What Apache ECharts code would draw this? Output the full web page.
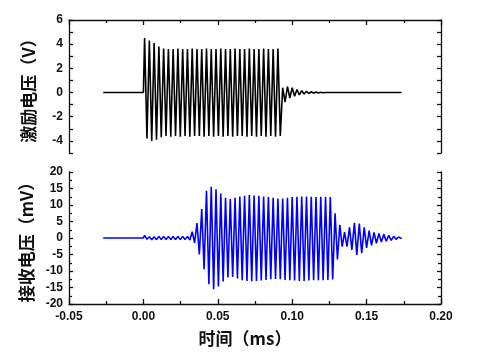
<!DOCTYPE html>
<html>
<head>
<meta charset="utf-8">
<script src="https://cdn.jsdelivr.net/npm/echarts@6/dist/echarts.min.js"></script>
<style>html,body{margin:0;padding:0;background:#fff;}#c{width:487px;height:360px;}</style>
</head>
<body>
<div id="c"></div>
<script>
// ---- Data ----
// X-axis (time, ms) ticks
var xTicks = [-0.05, 0.00, 0.05, 0.10, 0.15, 0.20];
var excTicks = [-4, -2, 0, 2, 4, 6];
var recTicks = [-20, -15, -10, -5, 0, 5, 10, 15, 20];

// Excitation voltage (V): extrema of the burst
var excTime = [-0.027, 0.0000,
  0.0008, 0.0024, 0.0040, 0.0056, 0.0072, 0.0088, 0.0104, 0.0120, 0.0136, 0.0152,
  0.0168, 0.0184, 0.0200, 0.0216, 0.0232, 0.0248, 0.0264, 0.0280, 0.0296, 0.0312,
  0.0328, 0.0344, 0.0360, 0.0376, 0.0392, 0.0408, 0.0424, 0.0440, 0.0456, 0.0472,
  0.0488, 0.0504, 0.0520, 0.0536, 0.0552, 0.0568, 0.0584, 0.0600, 0.0616, 0.0632,
  0.0648, 0.0664, 0.0680, 0.0696, 0.0712, 0.0728, 0.0744, 0.0760, 0.0776, 0.0792,
  0.0808, 0.0824, 0.0840, 0.0856, 0.0872, 0.0888, 0.0904, 0.0920,
  0.0936, 0.0952, 0.0968, 0.0984, 0.1000, 0.1016, 0.1032, 0.1048, 0.1064, 0.1080,
  0.1096, 0.1112, 0.1128, 0.1144, 0.1160, 0.1176, 0.1192, 0.1208, 0.1224, 0.1240, 0.1735];
var excVolt = [0, 0,
  4.5, -3.8, 4.3, -4.0, 4.1, -3.9, 3.8, -3.7, 3.65, -3.6,
  3.6, -3.65, 3.6, -3.6, 3.65, -3.65, 3.6, -3.6, 3.6, -3.65,
  3.65, -3.6, 3.6, -3.6, 3.6, -3.65, 3.65, -3.6, 3.6, -3.65,
  3.6, -3.6, 3.65, -3.65, 3.6, -3.6, 3.6, -3.65, 3.65, -3.6,
  3.6, -3.6, 3.6, -3.65, 3.65, -3.6, 3.6, -3.65, 3.6, -3.6,
  3.65, -3.65, 3.6, -3.6, 3.6, -3.65, 3.65, -3.6,
  0.4, -0.8, 0.5, -0.45, 0.4, -0.3, 0.25, -0.2, 0.15, -0.12,
  0.1, -0.08, 0.06, -0.05, 0.04, -0.03, 0.02, -0.02, 0.01, 0, 0];

// Received voltage (mV): extrema of the signal
var recTime = [-0.027, 0.0000,
  0.0008, 0.0024, 0.0040, 0.0056, 0.0072, 0.0088, 0.0104, 0.0120, 0.0136, 0.0152,
  0.0168, 0.0184, 0.0200, 0.0216, 0.0232, 0.0248, 0.0264, 0.0280, 0.0296, 0.0312,
  0.0328, 0.0344, 0.0360, 0.0376, 0.0392, 0.0408, 0.0424, 0.0440, 0.0456, 0.0472,
  0.0488, 0.0504, 0.0520, 0.0536, 0.0552, 0.0568, 0.0584, 0.0600, 0.0616, 0.0632,
  0.0648, 0.0664, 0.0680, 0.0696, 0.0712, 0.0728, 0.0744, 0.0760, 0.0776, 0.0792,
  0.0808, 0.0824, 0.0840, 0.0856, 0.0872, 0.0888, 0.0904, 0.0920, 0.0936, 0.0952,
  0.0968, 0.0984, 0.1000, 0.1016, 0.1032, 0.1048, 0.1064, 0.1080, 0.1096, 0.1112,
  0.1128, 0.1144, 0.1160, 0.1176, 0.1192, 0.1208, 0.1224, 0.1240, 0.1256, 0.1272,
  0.1288, 0.1304, 0.1320, 0.1336,
  0.1352, 0.1368, 0.1385, 0.1401, 0.1418, 0.1434, 0.1451, 0.1467, 0.1484, 0.1500,
  0.1517, 0.1533, 0.1550, 0.1566, 0.1583, 0.1599, 0.1616, 0.1632, 0.1649, 0.1665,
  0.1682, 0.1698, 0.1715, 0.1731, 0.1736];
var recVolt = [0, 0,
  0.8, -0.4, 0.4, -0.5, 0.4, -0.5, 0.5, -0.5, 0.5, -0.5,
  0.5, -0.5, 0.5, -0.5, 0.5, -0.5, 0.5, -0.5, 0.5, -0.6,
  1.9, -1.5, 4.5, -5.0, 8.8, -9.5, 14.3, -14.0, 15.5, -15.5,
  14.8, -14.7, 13.5, -13.2, 12.2, -12.0, 11.8, -11.8, 12.2, -12.3,
  12.6, -12.8, 12.8, -13.0, 13.0, -13.1, 12.9, -13.0, 12.8, -12.9,
  12.6, -12.7, 12.4, -12.5, 12.2, -12.4, 12.0, -12.5, 12.0, -12.7,
  12.2, -12.8, 12.4, -12.9, 12.5, -13.0, 12.6, -13.0, 12.6, -12.9,
  12.5, -12.8, 12.4, -12.8, 12.5, -12.8, 12.5, -12.7, 12.4, -12.6,
  7.5, -6.5, 4.0, -2.6,
  1.8, -2.6, 3.2, -3.6, 4.6, -5.1, 4.4, -4.6, 3.2, -3.0,
  2.2, -2.2, 1.7, -1.6, 1.4, -1.2, 1.1, -1.0, 0.8, -0.7,
  0.5, -0.4, 0.3, -0.1, 0];

function pairs(t, v) { return t.map(function (x, i) { return [x, v[i]]; }); }

var labelFont = { color: '#111', fontWeight: 'bold', fontSize: 12, fontFamily: 'Arial, "Liberation Sans", sans-serif' };
var nameFont = { color: '#111', fontWeight: 'bold', fontSize: 17, fontFamily: '"Noto Sans CJK SC", sans-serif' };
var lineSt = { show: true, onZero: false, lineStyle: { color: '#111', width: 1.3 } };

function xAx(grid, pos, showLabel) {
  var o = {
    type: 'value', gridIndex: grid, position: pos, min: xTicks[0], max: xTicks[xTicks.length - 1], interval: 0.05,
    axisLine: lineSt,
    axisTick: { show: true, inside: true, length: 5, lineStyle: { color: '#111', width: 1.3 } },
    minorTick: { show: true, splitNumber: 2, length: 3, lineStyle: { color: '#111', width: 1.3 } },
    splitLine: { show: false },
    axisLabel: { show: showLabel, margin: 7, formatter: function (v) { return v.toFixed(2); } }
  };
  Object.assign(o.axisLabel, labelFont);
  return o;
}

function yAx(grid, pos, ticks, step, minor, showLabel, name, evenOnly) {
  var o = {
    type: 'value', gridIndex: grid, position: pos,
    min: (evenOnly ? ticks[0] - 1 : ticks[0]), max: ticks[ticks.length - 1], interval: step,
    axisLine: lineSt,
    axisTick: { show: true, inside: true, length: 4, lineStyle: { color: '#111', width: 1.3 } },
    minorTick: { show: minor, splitNumber: 2, length: 3, lineStyle: { color: '#111', width: 1.3 } },
    splitLine: { show: false },
    axisLabel: { show: showLabel, margin: 6, formatter: function (v) {
      if (evenOnly) return (ticks.indexOf(v) >= 0) ? String(v) : '';
      return String(v);
    } }
  };
  Object.assign(o.axisLabel, labelFont);
  if (name) {
    o.name = name; o.nameLocation = 'middle'; o.nameGap = 32; o.nameTextStyle = nameFont;
  }
  return o;
}

var chart = echarts.init(document.getElementById('c'), null, { renderer: 'canvas' });
var xBottom = xAx(1, 'bottom', true);
xBottom.name = '时间（ms）';
xBottom.nameLocation = 'middle';
xBottom.nameGap = 26;
xBottom.nameTextStyle = Object.assign({ padding: [0, 20, 0, 0] }, nameFont);

chart.setOption({
  animation: false,
  backgroundColor: '#fff',
  grid: [
    { left: 69, right: 46, top: 20, height: 133 },
    { left: 69, right: 46, top: 172, height: 132 }
  ],
  xAxis: [ xAx(0, 'top', false), xBottom ],
  yAxis: [
    yAx(0, 'left', excTicks, 1, false, true, '激励电压（V）', true),
    yAx(0, 'right', excTicks, 1, false, false, null, true),
    yAx(1, 'left', recTicks, 5, true, true, '接收电压（mV）', false),
    yAx(1, 'right', recTicks, 5, true, false, null, false)
  ],
  series: [
    { type: 'line', xAxisIndex: 0, yAxisIndex: 0, data: pairs(excTime, excVolt), showSymbol: false, symbol: 'none',
      lineStyle: { color: '#000', width: 1.6 }, silent: true },
    { type: 'line', xAxisIndex: 1, yAxisIndex: 2, data: pairs(recTime, recVolt), showSymbol: false, symbol: 'none',
      lineStyle: { color: '#0000ff', width: 1.6 }, silent: true }
  ]
});
</script>
</body>
</html>
